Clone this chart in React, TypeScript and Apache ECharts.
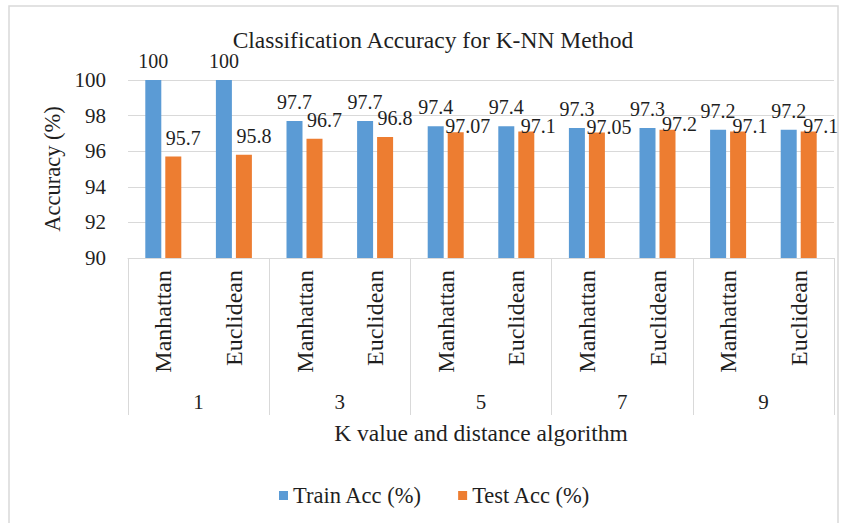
import React, { useEffect, useRef } from "react";
import * as echarts from "echarts";

const methods = ["Manhattan", "Euclidean", "Manhattan", "Euclidean", "Manhattan", "Euclidean", "Manhattan", "Euclidean", "Manhattan", "Euclidean"];
const kValues = ["1", "3", "5", "7", "9"];
const trainAcc = [100, 100, 97.7, 97.7, 97.4, 97.4, 97.3, 97.3, 97.2, 97.2];
const testAcc = [95.7, 95.8, 96.7, 96.8, 97.07, 97.1, 97.05, 97.2, 97.1, 97.1];
const yTicks = { min: 90, max: 100, interval: 2 };

const FONT = "'Liberation Serif', 'Times New Roman', serif";
const TXT = "#1f1f1f";
const GRID = "#d9d9d9";

export default function App() {
  const ref = useRef<HTMLDivElement>(null);
  useEffect(() => {
    if (!ref.current) return;
    const chart = echarts.init(ref.current, undefined, { renderer: "svg" });
    const baseLabel = {
      show: true,
      position: "top",
      distance: 9,
      fontFamily: FONT,
      fontSize: 20,
      color: TXT,
    };
    // Test-acc labels sit to the right of their bars; in crowded groups they are lowered
    const testData = testAcc.map((v, i) => ({
      value: v,
      label: { offset: i < 4 ? [10, 0] : [12, 13] },
    }));
    chart.setOption({
      animation: false,
      backgroundColor: "#ffffff",
      title: {
        text: "Classification Accuracy for K-NN Method",
        left: 428,
        top: 23,
        textAlign: "center",
        textStyle: { fontFamily: FONT, fontSize: 23.5, fontWeight: "normal", color: TXT },
      },
      graphic: [
        {
          type: "rect",
          shape: { x: 9, y: 6, width: 829, height: 540 },
          style: { fill: "none", stroke: GRID, lineWidth: 1.5 },
          silent: true,
        },
      ],
      legend: {
        left: 274,
        top: 479,
        itemWidth: 9,
        itemHeight: 9,
        itemGap: 36,
        icon: "rect",
        textStyle: { fontFamily: FONT, fontSize: 22.5, color: TXT },
        data: ["Train Acc (%)", "Test Acc (%)"],
      },
      grid: { left: 128, right: 7, top: 80, bottom: 265 },
      xAxis: [
        {
          type: "category",
          data: methods,
          position: "bottom",
          axisLine: { show: true, lineStyle: { color: GRID } },
          axisTick: { show: false },
          axisLabel: { rotate: 90, margin: 12, fontFamily: FONT, fontSize: 24, color: TXT },
        },
        {
          type: "category",
          data: kValues,
          position: "bottom",
          offset: 0,
          axisLine: { show: false },
          axisTick: { show: true, length: 157, lineStyle: { color: GRID } },
          axisLabel: { margin: 133, fontFamily: FONT, fontSize: 21, color: TXT },
          name: "K value and distance algorithm",
          nameLocation: "middle",
          nameGap: 163,
          nameTextStyle: { fontFamily: FONT, fontSize: 23.5, color: TXT },
        },
      ],
      yAxis: {
        type: "value",
        min: yTicks.min,
        max: yTicks.max,
        interval: yTicks.interval,
        axisLine: { show: false },
        axisTick: { show: false },
        splitLine: { lineStyle: { color: GRID } },
        axisLabel: { margin: 22, fontFamily: FONT, fontSize: 21, color: TXT },
        name: "Accuracy (%)",
        nameLocation: "middle",
        nameGap: 64,
        nameTextStyle: { fontFamily: FONT, fontSize: 22.5, color: TXT },
      },
      series: [
        {
          name: "Train Acc (%)",
          type: "bar",
          data: trainAcc,
          barWidth: 16,
          barGap: "25%",
          itemStyle: { color: "#5B9BD5" },
          label: baseLabel,
        },
        {
          name: "Test Acc (%)",
          type: "bar",
          data: testData,
          barWidth: 16,
          barGap: "25%",
          itemStyle: { color: "#ED7D31" },
          label: baseLabel,
        },
      ],
    });
    return () => chart.dispose();
  }, []);
  return (
    <div
      ref={ref}
      style={{ position: "absolute", left: 0, top: 0, width: 841, height: 523 }}
    />
  );
}
